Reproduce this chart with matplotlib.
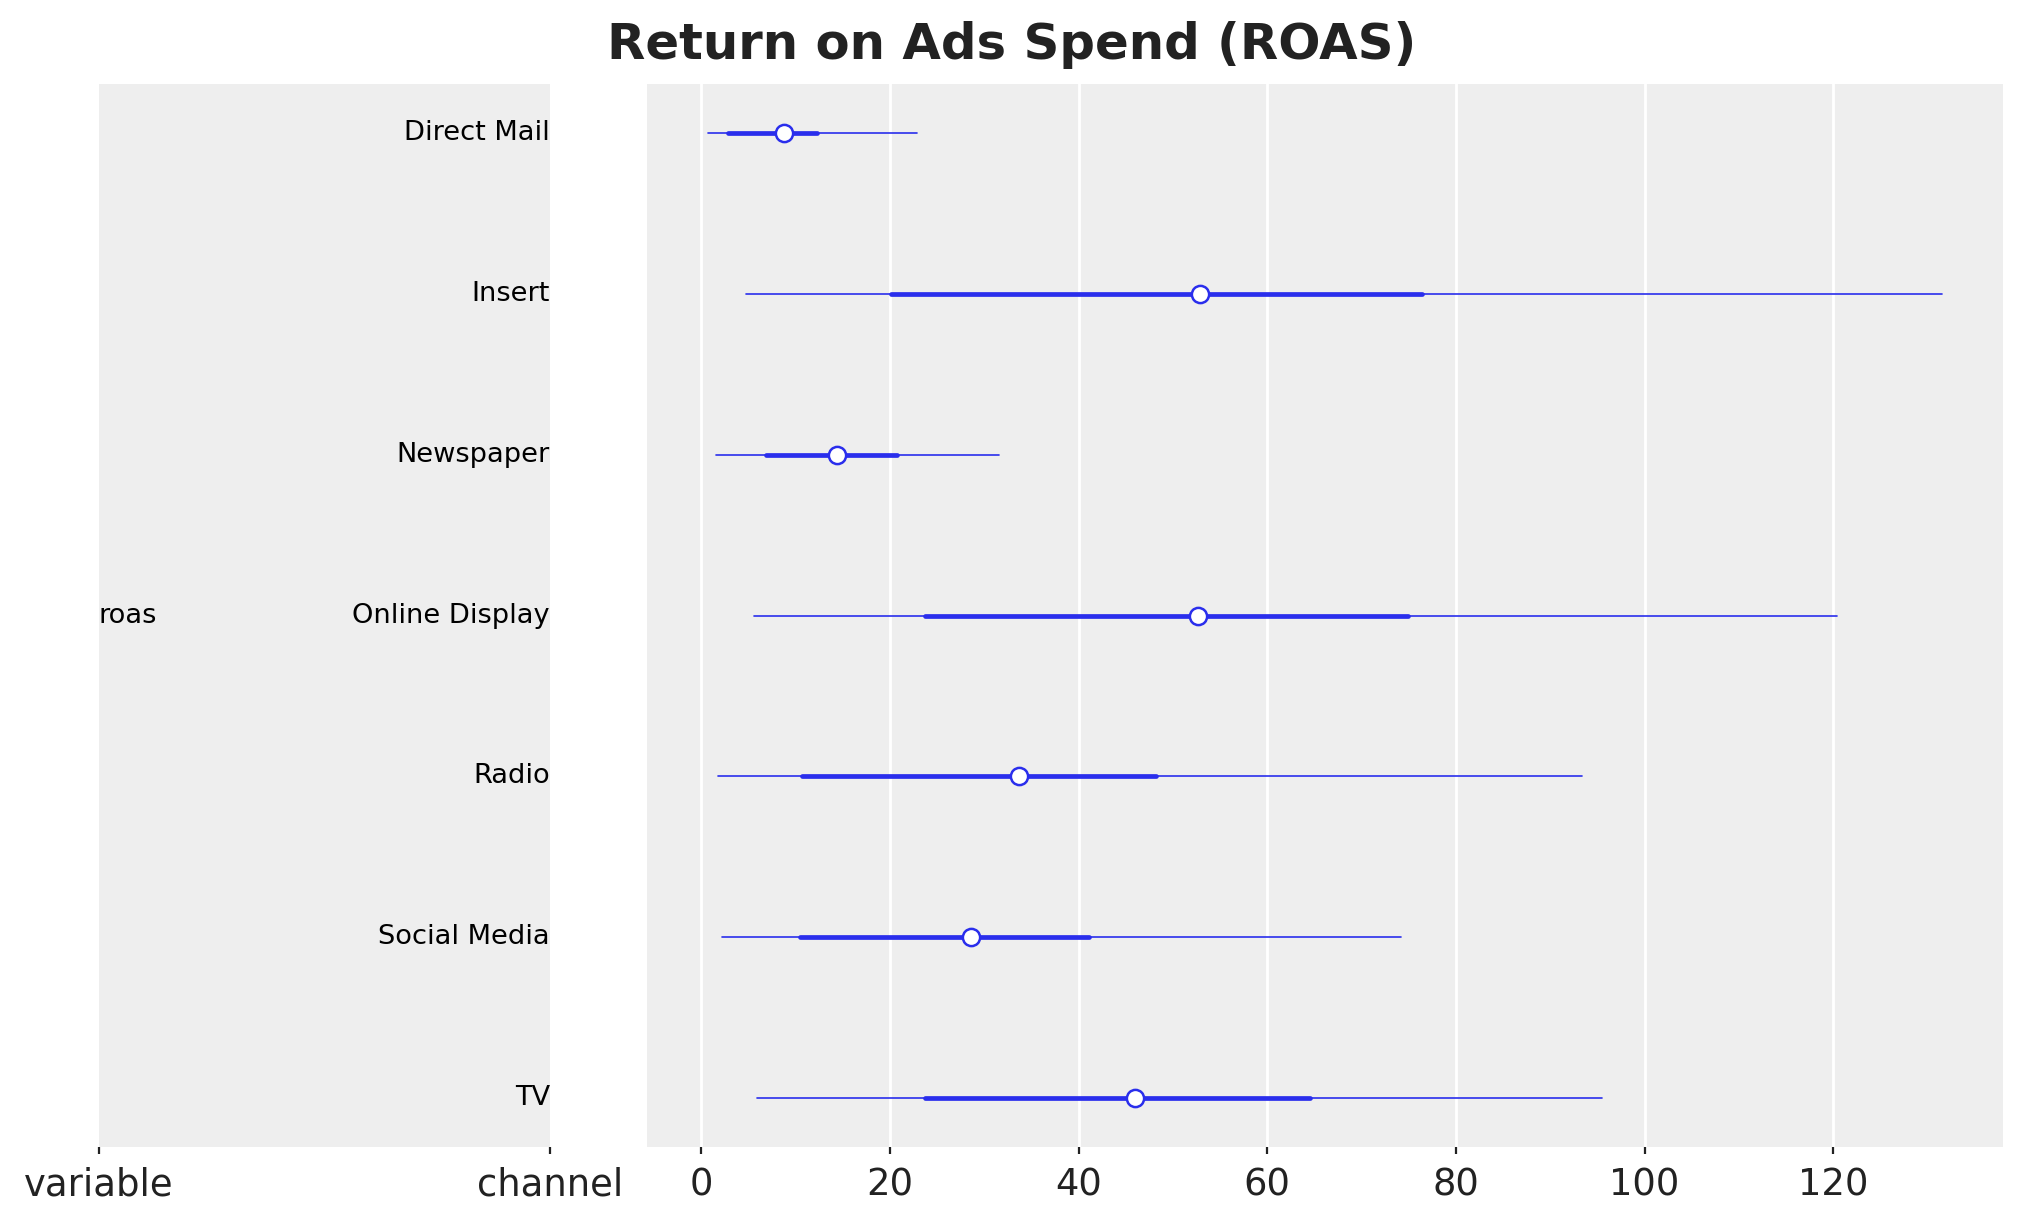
import matplotlib.pyplot as plt

# Datos del forest plot (de arriba hacia abajo)
channels = ["Direct Mail", "Insert", "Newspaper", "Online Display", "Radio", "Social Media", "TV"]
medians = [8.7, 52.9, 14.4, 52.7, 33.7, 28.6, 46.0]
hdi_low = [0.7, 4.7, 1.5, 5.6, 1.8, 2.2, 5.9]
hdi_high = [22.9, 131.5, 31.6, 120.4, 93.4, 74.2, 95.5]
iqr_low = [2.85, 20.1, 6.8, 23.7, 10.7, 10.4, 23.7]
iqr_high = [12.2, 76.4, 20.7, 74.9, 48.2, 41.1, 64.5]
x_ticks = [0, 20, 40, 60, 80, 100, 120]

color = "#2a2eec"
bg = "#eeeeee"

plt.rcParams["font.family"] = "DejaVu Sans"
fig = plt.figure(figsize=(2023 / 200, 1223 / 200), dpi=200)

ax_lab = fig.add_axes([0.0489, 0.0621, 0.2229, 0.8692])
ax = fig.add_axes([0.3198, 0.0621, 0.6703, 0.8692])

n = len(channels)
ys = [n - 1 - i for i in range(n)]
ylim = (-0.305, n - 1 + 0.305)

# Eje de etiquetas
ax_lab.set_facecolor(bg)
ax_lab.set_xlim(0, 1)
ax_lab.set_ylim(*ylim)
ax_lab.set_xticks([0, 1])
ax_lab.set_xticklabels(["variable", "channel"])
ax_lab.set_yticks([])
ax_lab.text(0, (n - 1) / 2, "roas", ha="left", va="center", fontsize=9.8, color="black")
for y, name in zip(ys, channels):
    ax_lab.text(1, y, name, ha="right", va="center", fontsize=9.8, color="black")

# Eje del forest plot
ax.set_facecolor(bg)
ax.set_axisbelow(True)
ax.grid(axis="x", color="white", linewidth=1.0)
for y, lo, hi, qlo, qhi, m in zip(ys, hdi_low, hdi_high, iqr_low, iqr_high, medians):
    ax.plot([lo, hi], [y, y], color=color, linewidth=0.6, solid_capstyle="round")
    ax.plot([qlo, qhi], [y, y], color=color, linewidth=1.7, solid_capstyle="round")
    ax.plot([m], [y], "o", markersize=6.2, markerfacecolor="white",
            markeredgecolor=color, markeredgewidth=0.9)

ax.set_xlim(-5.78, 138.0)
ax.set_ylim(*ylim)
ax.set_xticks(x_ticks)
ax.set_yticks([])

for a in (ax_lab, ax):
    for s in a.spines.values():
        s.set_visible(False)
    a.tick_params(axis="x", labelsize=13.3, colors="#222222", length=2.5, width=0.8, pad=4.5)

fig.suptitle("Return on Ads Spend (ROAS)", fontsize=17.9, fontweight="bold",
             color="#222222", y=0.963, va="center")

plt.savefig("out.png", dpi=200)
